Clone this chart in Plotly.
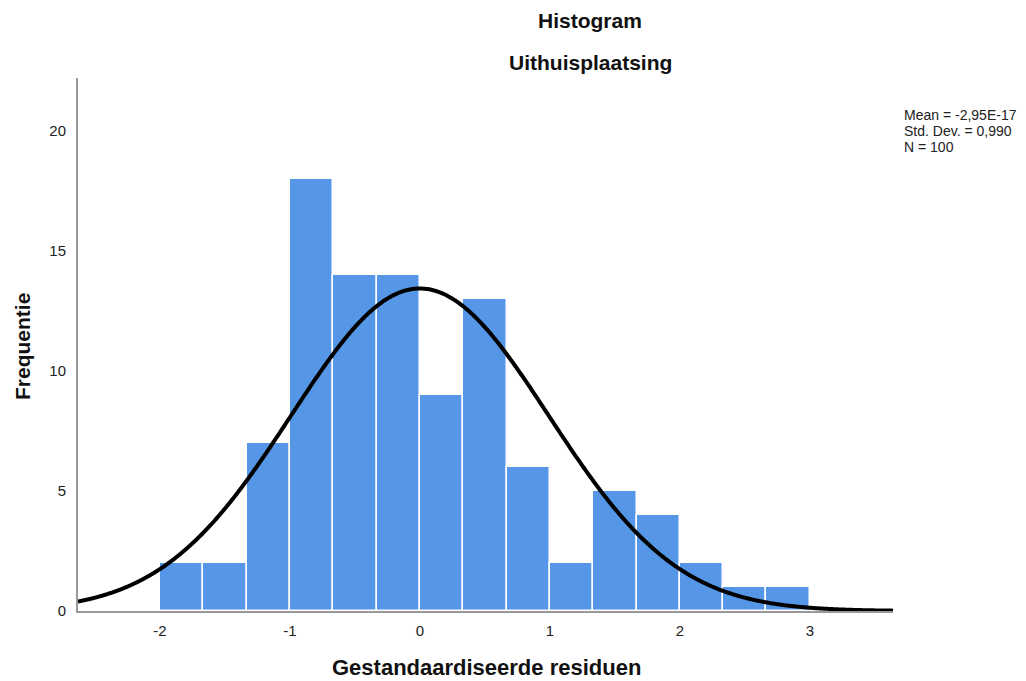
import numpy as np
import plotly.graph_objects as go

# Histogram data (bins of width 1/3 starting at -2)
bin_start = -2.0
bin_width = 1.0 / 3.0
counts = [2, 2, 7, 18, 14, 14, 9, 13, 6, 2, 5, 4, 2, 1, 1]

# Summary statistics shown on the chart
mean_val = -2.95e-17
sd_val = 0.990
n_val = 100
stat_lines = ["Mean = -2,95E-17", "Std. Dev. = 0,990", "N = 100"]

x_ticks = [-2, -1, 0, 1, 2, 3]
y_ticks = [0, 5, 10, 15, 20]

centers = [bin_start + bin_width * (i + 0.5) for i in range(len(counts))]

# Fitted normal curve scaled to counts
xc = np.linspace(-2.63, 3.64, 600)
yc = n_val * bin_width * np.exp(-0.5 * ((xc - mean_val) / sd_val) ** 2) / (sd_val * np.sqrt(2 * np.pi))

fig = go.Figure()
fig.add_trace(go.Bar(
    x=centers, y=counts, width=[bin_width] * len(counts),
    marker=dict(color="#5596E6", line=dict(color="white", width=1.5)),
    hoverinfo="x+y", showlegend=False,
))
fig.add_trace(go.Scatter(
    x=xc, y=yc, mode="lines", line=dict(color="black", width=4, shape="spline"),
    showlegend=False, hoverinfo="skip",
))

font_family = "Liberation Sans, Arial, sans-serif"
PW, PH = 815.0, 533.0  # plot area size in px
PL, PT = 78.0, 78.0    # plot area top-left on screen

def px(sx):
    return (sx - PL) / PW

def py(sy):
    return 1 - (sy - PT) / PH

annotations = [
    dict(text="<b>Histogram</b>", x=px(590), y=py(20), font=dict(size=21, color="#111")),
    dict(text="<b>Uithuisplaatsing</b>", x=px(590), y=py(62), font=dict(size=21, color="#111")),
    dict(text="<b>Gestandaardiseerde residuen</b>", x=px(486), y=py(667), font=dict(size=22, color="#111")),
    dict(text="<b>Frequentie</b>", x=px(22), y=py(346), font=dict(size=21, color="#111"), textangle=-90),
]
for a in annotations:
    a.update(xref="paper", yref="paper", showarrow=False, xanchor="center", yanchor="middle")
for i, line in enumerate(stat_lines):
    annotations.append(dict(text=line, x=px(902), y=py(115 + 16 * i), xref="paper", yref="paper",
                            showarrow=False, font=dict(size=14, color="#222"),
                            xanchor="left", yanchor="middle", align="left"))

fig.update_layout(
    width=1026, height=681,
    margin=dict(l=70, r=141, t=70, b=78),
    plot_bgcolor="white", paper_bgcolor="white",
    font=dict(family=font_family, size=15, color="#222"),
    bargap=0,
    xaxis=dict(range=[-2.63, 3.64], tickvals=x_ticks, ticktext=[str(t) for t in x_ticks],
               showgrid=False, zeroline=False, showline=True, linecolor="#999", linewidth=2,
               ticks="", ticklen=0, ticklabelstandoff=5, tickfont=dict(size=15, color="#222")),
    yaxis=dict(range=[0, 22.2], tickvals=y_ticks, ticktext=[str(t) for t in y_ticks],
               showgrid=False, zeroline=False, showline=True, linecolor="#999", linewidth=2,
               ticks="", ticklen=0, ticklabelstandoff=7, tickfont=dict(size=15, color="#222")),
    annotations=annotations,
)

fig.write_html("out.html")
